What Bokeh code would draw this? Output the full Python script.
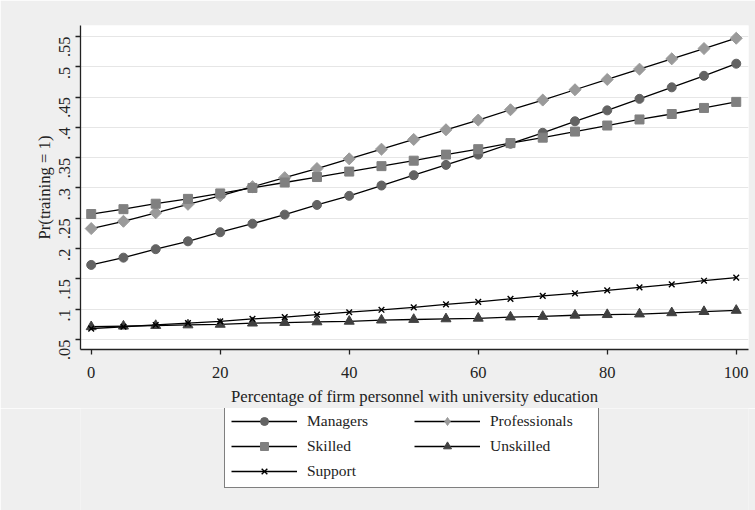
import math
from bokeh.plotting import figure
from bokeh.models import FixedTicker, Legend, LegendItem
from bokeh.layouts import column
from bokeh.embed import file_html
from bokeh.resources import INLINE

x_pct = [0, 5, 10, 15, 20, 25, 30, 35, 40, 45, 50, 55, 60, 65, 70, 75, 80, 85, 90, 95, 100]

managers = [0.173, 0.185, 0.199, 0.212, 0.227, 0.241, 0.256, 0.272, 0.287, 0.304, 0.321,
            0.338, 0.355, 0.373, 0.391, 0.410, 0.428, 0.447, 0.466, 0.485, 0.505]
professionals = [0.233, 0.245, 0.259, 0.273, 0.287, 0.302, 0.317, 0.332, 0.348, 0.364, 0.380,
                 0.396, 0.412, 0.429, 0.445, 0.462, 0.479, 0.496, 0.513, 0.530, 0.547]
skilled = [0.257, 0.265, 0.274, 0.282, 0.291, 0.300, 0.309, 0.318, 0.327, 0.336, 0.345,
           0.355, 0.364, 0.374, 0.383, 0.393, 0.403, 0.413, 0.422, 0.432, 0.442]
unskilled = [0.071, 0.072, 0.073, 0.074, 0.075, 0.077, 0.078, 0.079, 0.080, 0.082, 0.083,
             0.084, 0.085, 0.087, 0.088, 0.090, 0.091, 0.092, 0.094, 0.096, 0.098]
support = [0.068, 0.071, 0.074, 0.077, 0.080, 0.084, 0.087, 0.091, 0.095, 0.099, 0.103,
           0.108, 0.112, 0.117, 0.122, 0.126, 0.131, 0.136, 0.141, 0.147, 0.152]

series_names = ["Managers", "Professionals", "Skilled", "Unskilled", "Support"]

y_ticks = [0.05, 0.1, 0.15, 0.2, 0.25, 0.3, 0.35, 0.4, 0.45, 0.5, 0.55]
y_tick_labels = [".05", ".1", ".15", ".2", ".25", ".3", ".35", ".4", ".45", ".5", ".55"]
x_ticks = [0, 20, 40, 60, 80, 100]

FONT = "Liberation Serif"
BG = "#efefef"

p = figure(width=755, height=408, output_backend="svg", toolbar_location=None,
           x_range=(-1.66, 101.9), y_range=(0.0335, 0.568),
           min_border_left=80, min_border_right=7, min_border_top=25, min_border_bottom=59)
p.background_fill_color = "white"
p.border_fill_color = BG
p.outline_line_color = None

p.xgrid.grid_line_color = None
p.ygrid.grid_line_color = "#e6e6e6"
p.ygrid.grid_line_width = 1.2
p.ygrid.ticker = FixedTicker(ticks=y_ticks)

p.yaxis.ticker = FixedTicker(ticks=y_ticks)
p.yaxis.major_label_overrides = {t: l for t, l in zip(y_ticks, y_tick_labels)}
p.yaxis.major_label_orientation = math.pi / 2
p.xaxis.ticker = FixedTicker(ticks=x_ticks)

for ax in (p.xaxis, p.yaxis):
    ax.axis_line_color = "#222222"
    ax.axis_line_width = 1.3
    ax.major_tick_line_color = "#222222"
    ax.major_tick_line_width = 1.3
    ax.major_tick_out = 5
    ax.major_tick_in = 0
    ax.minor_tick_line_color = None
    ax.major_label_text_font = FONT
    ax.major_label_text_font_size = "16.5px"
    ax.major_label_text_color = "#222222"
    ax.axis_label_text_font = FONT
    ax.axis_label_text_font_size = "16.7px"
    ax.axis_label_text_font_style = "normal"
    ax.axis_label_text_color = "#222222"

p.xaxis.axis_label = "Percentage of firm personnel with university education"
p.yaxis.axis_label = "Pr(training = 1)"
p.xaxis.major_label_standoff = 12
p.xaxis.axis_label_standoff = 6
p.yaxis.major_label_standoff = 11
p.yaxis.axis_label_standoff = -3

styles = [
    dict(marker="circle", size=9, fill_color="#636363", line_color="#636363"),
    dict(marker="square", size=8.5, angle=math.pi / 4, fill_color="#9a9a9a", line_color="#9a9a9a"),
    dict(marker="square", size=9, fill_color="#808080", line_color="#808080"),
    dict(marker="triangle", size=10, fill_color="#404040", line_color="#404040"),
    dict(marker="x", size=8, line_color="black", line_width=1.4),
]
legend_styles = [
    dict(marker="circle", size=9, fill_color="#636363", line_color="#636363"),
    dict(marker="diamond", size=13, fill_color="#9a9a9a", line_color="#9a9a9a"),
    dict(marker="square", size=9, fill_color="#808080", line_color="#808080"),
    dict(marker="triangle", size=10, fill_color="#404040", line_color="#404040"),
    dict(marker="x", size=8, line_color="black", line_width=1.4),
]
series_values = [managers, professionals, skilled, unskilled, support]

for vals, st in zip(series_values, styles):
    p.line(x_pct, vals, line_color="black", line_width=1.3)
    p.scatter(x_pct, vals, **st)

# legend strip below the chart (its data lie outside its visible range)
q = figure(width=755, height=102, output_backend="svg", toolbar_location=None,
           x_range=(-1000, -999), y_range=(0, 1), x_axis_type=None, y_axis_type=None,
           min_border_left=80, min_border_right=7, min_border_top=0, min_border_bottom=0)
q.background_fill_color = BG
q.border_fill_color = BG
q.outline_line_color = None
q.xgrid.grid_line_color = None
q.ygrid.grid_line_color = None

items = []
for name, vals, st in zip(series_names, series_values, legend_styles):
    ln = q.line(x_pct, vals, line_color="black", line_width=1.3)
    sc = q.scatter(x_pct, vals, **st)
    items.append(LegendItem(label=name, renderers=[ln, sc]))

legend = Legend(items=items, location=(144, 22), orientation="horizontal", ncols=2)
legend.label_text_font = FONT
legend.label_text_font_size = "15.5px"
legend.label_text_color = "#222222"
legend.glyph_width = 66
legend.glyph_height = 20
legend.label_standoff = 10
legend.label_width = 102
legend.spacing = 5
legend.padding = 6
legend.margin = 0
legend.border_line_color = "black"
legend.border_line_width = 1.2
legend.background_fill_color = "white"
legend.background_fill_alpha = 1
q.add_layout(legend, "center")

layout = column(p, q, spacing=0)
open("out.html", "w").write(file_html(layout, INLINE))
